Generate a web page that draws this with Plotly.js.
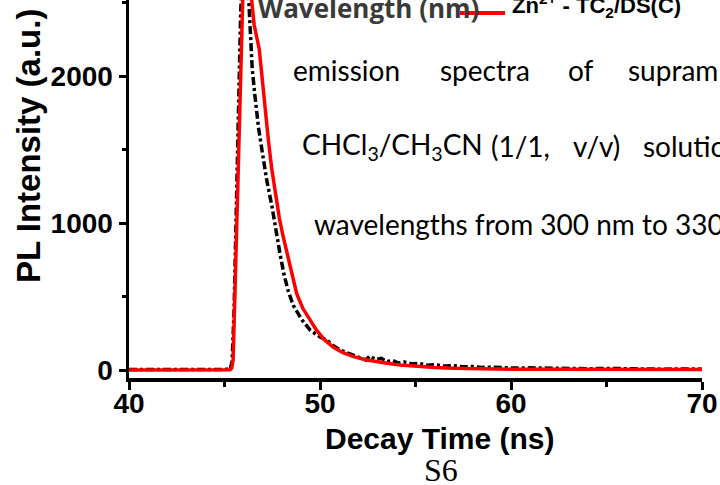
<!DOCTYPE html>
<html>
<head>
<meta charset="utf-8">
<script src="https://cdn.plot.ly/plotly-3.0.1.min.js"></script>
<style>html,body{margin:0;padding:0;background:#fff;}#chart{width:720px;height:485px;}</style>
</head>
<body>
<div id="chart"></div>
<script>
// Black dash-dot curve (reference sample)
const timeBlack = [40, 42, 44, 45.0, 45.3, 45.4, 45.5, 45.6, 45.73, 45.85, 46.0, 46.1, 46.2, 46.33, 46.45, 46.6, 46.78, 46.96, 47.2, 47.49, 47.7, 47.9, 48.1, 48.32, 48.6, 49.06, 49.5, 50.0, 50.35, 50.7, 51.05, 51.4, 51.7, 52.0, 52.4, 52.6, 52.9, 53.2, 53.5, 53.8, 54.1, 54.4, 54.8, 55.2, 55.6, 56.0, 56.5, 57.0, 57.5, 58.0, 58.5, 59.0, 60, 61, 62, 63, 64, 65, 66, 67, 68, 69, 70];
const intensityBlack = [3, 2, 3, 4, 8, 60, 400, 1000, 1830, 2450, 2800, 2850, 2700, 2293, 2050, 1857, 1650, 1497, 1300, 1109, 930, 796, 660, 544, 440, 340, 270, 225, 204, 165, 136, 118, 100, 90, 68, 95, 72, 80, 58, 66, 48, 55, 42, 45, 33, 36, 27, 30, 22, 24, 18, 20, 14, 15, 11, 13, 9, 11, 8, 9, 6, 8, 6];

// Red solid curve: Zn2+ - TC2/DS(C)
const timeRed = [40, 42, 44, 45.0, 45.3, 45.38, 45.45, 45.63, 45.81, 45.95, 46.1, 46.25, 46.42, 46.55, 46.82, 46.95, 47.12, 47.3, 47.47, 47.67, 47.87, 48.04, 48.29, 48.5, 48.78, 49.1, 49.48, 49.8, 50.2, 50.7, 51.2, 51.8, 52.45, 53.0, 53.6, 54.2, 55.0, 56.0, 57.0, 58.0, 60, 62, 65, 68, 70];
const intensityRed = [0, 0, 0, 0, 2, 14, 68, 926, 1830, 2500, 2780, 2800, 2517, 2350, 2182, 2000, 1757, 1560, 1372, 1200, 1034, 926, 790, 660, 520, 420, 338, 275, 210, 155, 118, 90, 68, 55, 44, 34, 25, 17, 12, 9, 6, 5, 4, 3, 3];

const xTicks = [40, 50, 60, 70];
const xMinorTicks = [45, 55, 65];
const yTicks = [0, 1000, 2000];
const yMinorTicks = [500, 1500, 2500];

const legendLabel = 'Zn<sup>2+</sup> - TC<sub>2</sub>/DS(C)';
const xTitle = 'Decay Time (ns)';
const yTitle = 'PL Intensity (a.u.)';

// plot area geometry helpers (pixels -> paper)
const L = 129, R = 18, T = 0, B = 107, W = 720, H = 485;
const PW = W - L - R, PH = H - T - B;
const px = x => (x - L) / PW;
const py = y => 1 - (y - T) / PH;

const tickFontX = {family: 'Liberation Sans, Arial, sans-serif', size: 28, color: '#000', weight: 'bold'};
const tickFontY = {family: 'Liberation Sans, Arial, sans-serif', size: 28, color: '#000', weight: 'bold'};
const bodyFont = (s) => ({family: 'Lato, Carlito, Calibri, sans-serif', size: s, color: '#000'});

function ann(text, x, y, font, extra) {
  return Object.assign({text: text, xref: 'paper', yref: 'paper', x: px(x), y: py(y),
    xanchor: 'left', yanchor: 'middle', showarrow: false, font: font}, extra || {});
}

const annotations = [
  ann('Wavelength (nm)', 256, 8, {family: 'Open Sans, sans-serif', size: 26, color: '#3a3a3a', weight: 'bold'}),
  ann(legendLabel, 510, 5, {family: 'Liberation Sans, Arial, sans-serif', size: 22, color: '#000', weight: 'bold'}),
  ann('emission', 291, 70, bodyFont(28)),
  ann('spectra', 438, 70, bodyFont(28)),
  ann('of', 566, 70, bodyFont(28)),
  ann('supram', 626, 70, bodyFont(28)),
  ann('CHCl<sub>3</sub>/CH<sub>3</sub>CN', 300, 146, bodyFont(28)),
  ann('(1/1,', 489, 146, bodyFont(28)),
  ann('v/v)', 571, 146, bodyFont(28)),
  ann('solutio', 641, 146, bodyFont(28)),
  ann('wavelengths from 300 nm to 330 nm', 312, 224, bodyFont(28)),
  ann(xTitle, 440, 438, {family: 'Liberation Sans, Arial, sans-serif', size: 30, color: '#000', weight: 'bold'}, {xanchor: 'center'}),
  ann('S6', 441, 470, {family: 'Liberation Serif, Times New Roman, serif', size: 32, color: '#000'}, {xanchor: 'center'}),
  ann(yTitle, 28, 146, {family: 'Liberation Sans, Arial, sans-serif', size: 33, color: '#000', weight: 'bold'}, {xanchor: 'center', textangle: -90})
];

const data = [
  {x: timeBlack, y: intensityBlack, type: 'scatter', mode: 'lines', name: 'reference',
   line: {color: '#000', width: 3.5, dash: '8px,3px,3px,3px'}, showlegend: false},
  {x: timeRed, y: intensityRed, type: 'scatter', mode: 'lines', name: 'Zn2+ - TC2/DS(C)',
   line: {color: '#ff0000', width: 3.5}, showlegend: false}
];

const layout = {
  width: W, height: H,
  margin: {l: L, r: R, t: T, b: B, pad: 0},
  paper_bgcolor: '#fff', plot_bgcolor: '#fff',
  showlegend: false,
  xaxis: {
    range: [40, 70], tickmode: 'array', tickvals: xTicks, ticktext: xTicks.map(String),
    ticks: 'outside', ticklen: 8, tickwidth: 3, tickcolor: '#000',
    showline: true, linewidth: 3.5, linecolor: '#000', mirror: false,
    showgrid: false, zeroline: false, tickfont: tickFontX, ticklabelstandoff: -10,
    minor: {tickmode: 'array', tickvals: xMinorTicks, ticks: 'outside', ticklen: 5, tickwidth: 3, tickcolor: '#000', showgrid: false}
  },
  yaxis: {
    range: [-54, 2517], tickmode: 'array', tickvals: yTicks, ticktext: yTicks.map(String),
    ticks: 'outside', ticklen: 7, tickwidth: 3, tickcolor: '#000',
    showline: true, linewidth: 3.5, linecolor: '#000', mirror: false,
    showgrid: false, zeroline: false, tickfont: tickFontY,
    minor: {tickmode: 'array', tickvals: yMinorTicks, ticks: 'outside', ticklen: 4, tickwidth: 3, tickcolor: '#000', showgrid: false}
  },
  shapes: [
    {type: 'line', xref: 'paper', yref: 'paper', x0: px(460), x1: px(505), y0: py(13), y1: py(13),
     line: {color: '#ff0000', width: 4}}
  ],
  annotations: annotations
};

Plotly.newPlot('chart', data, layout, {displayModeBar: false, staticPlot: true});
</script>
</body>
</html>
